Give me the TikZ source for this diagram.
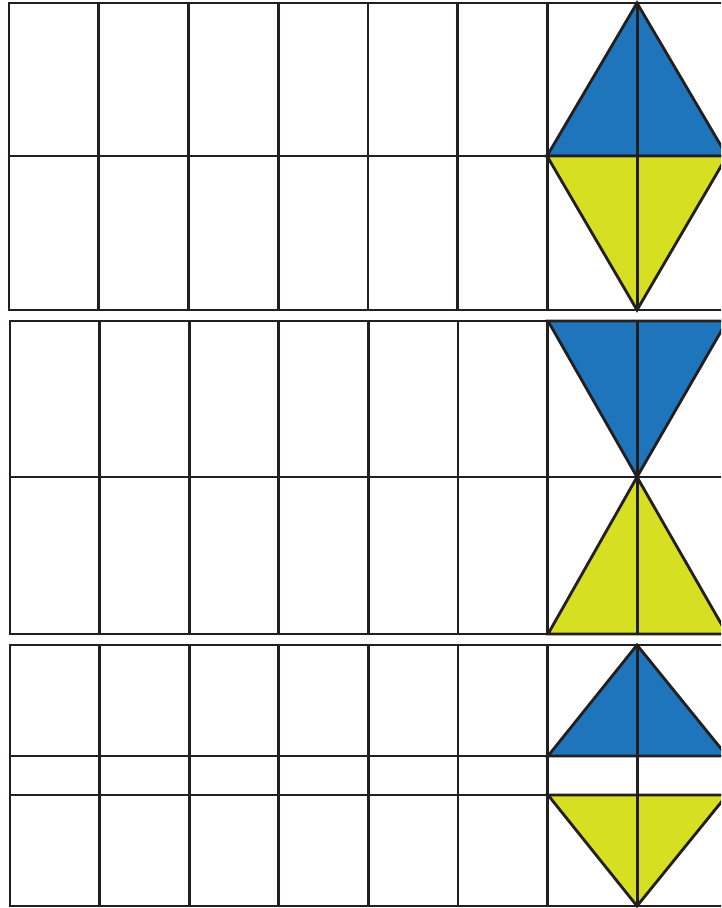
\documentclass[tikz,border=0pt]{standalone}
\definecolor{gridline}{HTML}{231F20}
\definecolor{kiteblue}{HTML}{1E75BC}
\definecolor{kiteyellow}{HTML}{D7DF23}
\begin{document}
\begin{tikzpicture}[x=0.03cm,y=-0.03cm,line width=0.085cm,line cap=rect]
\useasboundingbox (0,0) rectangle (721,908);
\clip (0,0) rectangle (721,908);
% top panel: whole kite
\filldraw[fill=kiteblue,draw=gridline] (637,3) -- (547,156) -- (727,156) -- cycle;
\filldraw[fill=kiteyellow,draw=gridline] (637,310) -- (547,156) -- (727,156) -- cycle;
\foreach \i in {0,...,8} \draw[gridline] ({9+89.75*\i},3) -- ({9+89.75*\i},310);
\foreach \y in {3,156,310} \draw[gridline] (9,\y) -- (730,\y);
% middle panel: the halves turned round
\filldraw[fill=kiteblue,draw=gridline] (548,321) -- (727,321) -- (637,477) -- cycle;
\filldraw[fill=kiteyellow,draw=gridline] (548,634) -- (727,634) -- (637,477) -- cycle;
\foreach \i in {0,...,8} \draw[gridline] ({10+89.6*\i},321) -- ({10+89.6*\i},634);
\foreach \y in {321,477,634} \draw[gridline] (10,\y) -- (730,\y);
% bottom panel: halves pulled apart
\filldraw[fill=kiteblue,draw=gridline] (637,645) -- (548,756) -- (727,756) -- cycle;
\filldraw[fill=kiteyellow,draw=gridline] (637,906) -- (548,795) -- (727,795) -- cycle;
\foreach \i in {0,...,8} \draw[gridline] ({10+89.6*\i},645) -- ({10+89.6*\i},906);
\foreach \y in {645,756,795,906} \draw[gridline] (10,\y) -- (730,\y);
\end{tikzpicture}
\end{document}
